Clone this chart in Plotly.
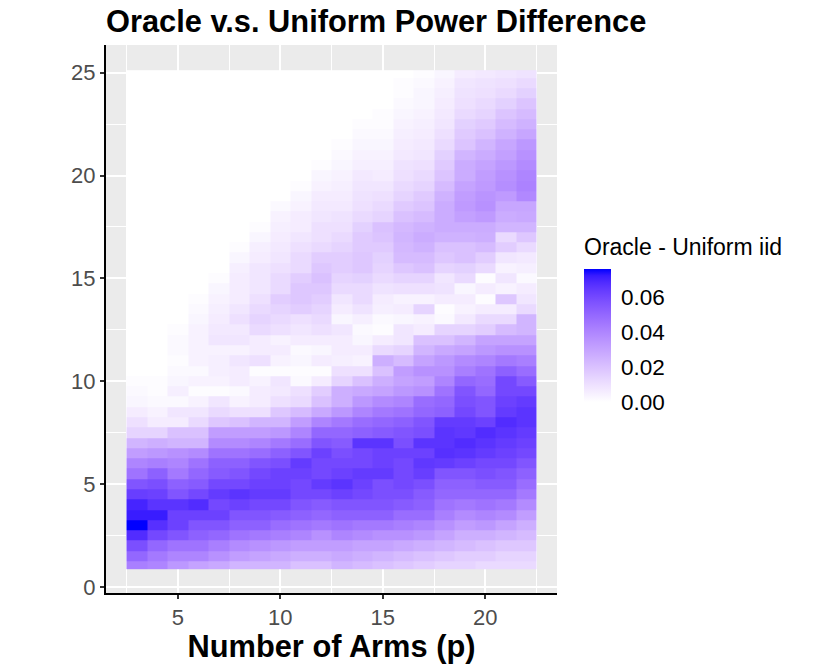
import plotly.graph_objects as go

# Values are in thousandths, read per column from y=1 upward in steps of 0.5.
# Anything above the end of a list reads as zero.
arms = list(range(3, 23))
levels = [1 + 0.5 * i for i in range(49)]
c03 = [42,50,58,68,76,72,70,63,56,46,40,32,24,14,10,6,3,2,1]
c04 = [40,44,50,60,67,72,66,62,58,52,42,34,26,14,6,4,2,1,1]
c05 = [34,40,46,56,62,62,66,56,52,44,40,36,24,20,6,8,2,5,3,2,1,2,2,1]
c06 = [30,40,46,52,56,62,68,60,54,50,46,38,24,20,12,8,4,1,4,2,4,4,4,4,3,2,1]
c07 = [28,36,42,50,56,62,60,64,60,54,52,46,38,32,18,12,8,1,4,5,5,4,8,7,6,5,4,3,1]
c08 = [24,32,38,46,52,56,62,66,60,56,52,46,38,32,20,10,4,2,6,6,8,4,8,7,10,8,6,6,6,5,3,1]
c09 = [24,30,36,44,52,56,60,64,62,60,56,48,40,32,24,10,6,6,4,1,10,6,6,12,14,12,10,8,8,8,6,5,3,1]
c10 = [24,28,34,42,48,54,60,64,62,62,58,52,44,34,24,18,10,7,8,1,4,6,4,10,12,14,16,12,12,10,8,7,6,5,4,2]
c11 = [20,26,32,40,46,52,56,60,60,62,64,56,48,40,32,22,12,10,2,1,3,2,6,8,10,16,18,18,16,12,12,10,8,6,6,4,3,1]
c12 = [20,26,32,36,44,50,54,60,64,60,60,62,56,50,40,28,20,16,6,1,6,3,6,10,12,14,16,18,20,18,16,12,10,10,8,7,6,4,3,1]
c13 = [24,28,32,40,46,52,56,62,66,62,60,58,54,50,44,34,26,26,14,10,5,6,6,8,3,6,8,12,14,16,16,14,12,10,9,7,6,5,4,3,2,1]
c14 = [22,26,30,38,44,52,56,60,62,64,60,60,66,52,48,40,34,28,20,10,4,6,3,2,5,9,12,12,15,18,18,17,17,15,12,10,9,8,7,5,4,3,2,1]
c15 = [20,24,30,36,44,52,56,58,58,64,62,62,66,54,50,44,38,30,26,20,26,12,6,1,2,5,6,9,12,14,15,17,19,20,14,12,10,8,6,5,4,3,2,1,1]
c16 = [18,22,28,36,42,48,54,58,60,60,60,62,58,56,52,46,40,34,30,32,22,14,8,8,3,6,4,10,14,18,22,23,24,23,20,17,14,12,10,9,7,6,5,4,3,2,1,1,0]
c17 = [16,20,26,34,40,48,52,54,58,63,65,62,66,58,56,50,48,36,32,36,30,24,20,6,4,14,4,10,14,20,22,25,27,25,22,19,17,14,12,10,8,7,6,5,4,3,3,2,1]
c18 = [14,18,24,30,36,42,46,50,52,56,64,67,66,66,64,52,50,46,40,36,34,28,20,14,2,1,6,9,8,14,18,20,25,27,27,27,25,22,19,17,15,12,10,8,7,6,5,4,3]
c19 = [14,16,22,26,32,38,44,50,52,56,62,66,68,65,64,60,58,56,50,42,38,30,24,14,7,4,6,3,12,15,20,20,25,27,31,33,32,30,27,27,24,19,17,15,12,10,9,8,6]
c20 = [12,16,20,26,34,40,46,50,54,58,60,64,66,68,62,56,56,50,48,46,40,34,30,16,12,6,1,6,1,12,16,22,26,27,33,36,35,33,32,30,27,24,20,17,14,12,10,9,7]
c21 = [12,14,18,24,30,38,44,50,54,56,60,62,64,66,68,64,62,60,60,52,44,36,30,22,12,6,18,4,8,4,8,16,12,24,27,29,33,37,36,34,31,29,25,22,19,15,12,10,8]
c22 = [12,14,18,22,26,32,38,44,48,52,56,60,62,64,66,66,64,60,54,48,42,36,30,24,24,12,8,6,2,5,7,12,18,24,28,29,39,41,40,38,36,34,29,25,22,19,15,12,9]
columns = [c03,c04,c05,c06,c07,c08,c09,c10,c11,c12,c13,c14,c15,c16,c17,c18,c19,c20,c21,c22]
x_ticks = [5, 10, 15, 20]
y_ticks = [0, 5, 10, 15, 20, 25]
legend_ticks = [0.0, 0.02, 0.04, 0.06]
legend_labels = ["0.00", "0.02", "0.04", "0.06"]
z_top = 0.076

z = [[(col[r] if r < len(col) else 0) / 1000 for col in columns] for r in range(len(levels))]
y_edges = [0.875] + [lv + 0.25 for lv in levels[:-1]] + [25.125]


def srgb_to_lab(rgb):
    lin = [(c / 12.92 if c <= 0.04045 else ((c + 0.055) / 1.055) ** 2.4) for c in rgb]
    X = (0.4124 * lin[0] + 0.3576 * lin[1] + 0.1805 * lin[2]) / 0.95047
    Y = 0.2126 * lin[0] + 0.7152 * lin[1] + 0.0722 * lin[2]
    Z = (0.0193 * lin[0] + 0.1192 * lin[1] + 0.9505 * lin[2]) / 1.08883
    f = lambda t: t ** (1 / 3) if t > 0.008856 else 7.787 * t + 16 / 116
    return 116 * f(Y) - 16, 500 * (f(X) - f(Y)), 200 * (f(Y) - f(Z))


def lab_to_hex(L, a, b):
    fy = (L + 16) / 116
    fx, fz = fy + a / 500, fy - b / 200
    g = lambda t: t ** 3 if t ** 3 > 0.008856 else (t - 16 / 116) / 7.787
    X, Y, Z = 0.95047 * g(fx), g(fy), 1.08883 * g(fz)
    lin = [3.2406 * X - 1.5372 * Y - 0.4986 * Z,
           -0.9689 * X + 1.8758 * Y + 0.0415 * Z,
           0.0557 * X - 0.2040 * Y + 1.0570 * Z]
    out = []
    for c in lin:
        c = max(0, min(1, c))
        c = 12.92 * c if c <= 0.0031308 else 1.055 * c ** (1 / 2.4) - 0.055
        out.append(round(255 * c))
    return "#%02x%02x%02x" % tuple(out)


lo, hi = srgb_to_lab((1, 1, 1)), srgb_to_lab((0, 0, 1))
colorscale = [[i / 20, lab_to_hex(*[lo[k] + (hi[k] - lo[k]) * i / 20 for k in range(3)])] for i in range(21)]

FONT = "Liberation Sans"
W, H = 830, 664
PX, PY = 105.5, 45
PW, PH = 451.5, 548
bar_left, bar_right, bar_top, bar_bottom = 584, 611, 269, 402


def paper_x(px):
    return (px - PX) / PW


def paper_y(py):
    return (PY + PH - py) / PH


fig = go.Figure(go.Heatmap(
    x=arms, y=y_edges, z=z, zmin=0, zmax=z_top, colorscale=colorscale, hoverongaps=False,
    colorbar=dict(
        thickness=bar_right - bar_left, thicknessmode="pixels",
        len=bar_bottom - bar_top, lenmode="pixels",
        x=paper_x(bar_left), xref="paper", xanchor="left",
        y=paper_y(bar_bottom), yref="paper", yanchor="bottom",
        outlinewidth=0, borderwidth=0, xpad=0, ypad=0,
        tickvals=legend_ticks, ticktext=legend_labels,
        ticks="outside", ticklen=6, tickcolor="white", tickwidth=1,
        tickfont=dict(family=FONT, size=22.5, color="black"),
    ),
))

# White tick marks inside the legend bar, at both of its edges.
legend_marks = []
for tick in legend_ticks[1:]:
    yy = paper_y(bar_bottom - (bar_bottom - bar_top) * tick / z_top)
    for a, b in [(bar_left, bar_left + 5), (bar_right - 5, bar_right)]:
        legend_marks.append(dict(type="line", xref="paper", yref="paper",
                                 x0=paper_x(a), x1=paper_x(b), y0=yy, y1=yy,
                                 line=dict(color="white", width=1)))

fig.update_layout(
    width=W, height=H, autosize=False,
    margin=dict(l=PX, r=W - PX - PW, t=PY, b=H - PY - PH, pad=0),
    paper_bgcolor="white", plot_bgcolor="#EBEBEB",
    font=dict(family=FONT),
    shapes=legend_marks,
    title=dict(text="<b>Oracle v.s. Uniform Power Difference</b>",
               font=dict(family=FONT, size=30.8, color="black"),
               x=106 / W, xanchor="left", xref="container",
               y=1 - 21 / H, yanchor="middle", yref="container"),
    annotations=[dict(text="Oracle - Uniform iid", xref="paper", yref="paper",
                      x=paper_x(584), y=paper_y(247),
                      xanchor="left", yanchor="middle", showarrow=False,
                      xshift=-1, borderpad=0,
                      font=dict(family=FONT, size=23, color="black"))],
)

axis_common = dict(
    showline=True, linecolor="black", linewidth=2, mirror=False,
    ticks="outside", ticklen=4, tickwidth=1.5, tickcolor="#333333",
    showgrid=True, gridcolor="white", gridwidth=1.5, zeroline=False,
    automargin=False,
    tickfont=dict(family=FONT, size=22, color="#4D4D4D"),
    minor=dict(dtick=2.5, tick0=0, showgrid=True, gridcolor="white", gridwidth=0.8, ticks=""),
)
fig.update_xaxes(range=[1.5, 23.5], tickvals=x_ticks, **axis_common,
                 title=dict(text="<b>Number of Arms (p)</b>",
                            font=dict(family=FONT, size=30.8, color="black")))
fig.update_yaxes(range=[-0.3, 26.35], tickvals=y_ticks, **axis_common)

fig.write_html("out.html", config=dict(displayModeBar=False),
               post_script="document.body.style.margin='0';")
